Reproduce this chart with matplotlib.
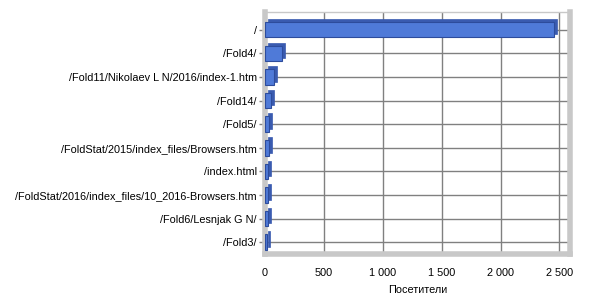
import matplotlib
matplotlib.use('Agg')
import matplotlib.pyplot as plt
import matplotlib.transforms as mtransforms
from matplotlib.ticker import FuncFormatter

pages = [
    "/",
    "/Fold4/",
    "/Fold11/Nikolaev L N/2016/index-1.htm",
    "/Fold14/",
    "/Fold5/",
    "/FoldStat/2015/index_files/Browsers.htm",
    "/index.html",
    "/FoldStat/2016/index_files/10_2016-Browsers.htm",
    "/Fold6/Lesnjak G N/",
    "/Fold3/",
]
visitors = [2450, 145, 75, 50, 38, 32, 27, 24, 22, 20]

FACE = '#4f7ad8'
EDGE = '#2d4c9c'
SIDE = '#3a5bb0'
WALL = '#c8c8c8'
GRID = '#808080'

plt.rcParams['font.family'] = ['Liberation Sans', 'DejaVu Sans']

fig = plt.figure(figsize=(6, 3), dpi=100)
ax = fig.add_axes([265 / 600, 1 - 254 / 300, 305 / 600, 242 / 300])

y = list(range(len(pages)))

# fake depth: darker copy shifted up-right behind each bar
depth = mtransforms.offset_copy(ax.transData, fig=fig, x=3, y=3, units='dots')
ax.barh(y, visitors, height=0.66, color=SIDE, edgecolor=SIDE,
        linewidth=0.5, transform=depth, zorder=2)
ax.barh(y, visitors, height=0.66, color=FACE, edgecolor=EDGE,
        linewidth=0.8, zorder=3)

ax.set_xlim(0, 2590)
ax.set_ylim(len(pages) - 0.5, -0.75)
ax.set_xticks(range(0, 2501, 500))
ax.xaxis.set_major_formatter(FuncFormatter(lambda v, p: f"{int(v):,}".replace(',', ' ')))
ax.set_yticks(y)
ax.set_yticklabels(pages)

ax.grid(True, color=GRID, lw=1.0, zorder=0)
ax.set_axisbelow(True)

for side in ('left', 'bottom', 'right'):
    ax.spines[side].set_color(WALL)
    ax.spines[side].set_linewidth(4)
ax.spines['top'].set_color(WALL)
ax.spines['top'].set_linewidth(1)

ax.tick_params(axis='y', length=4, width=1, color=GRID, labelsize=7.8, pad=2)
ax.tick_params(axis='x', length=0, labelsize=7.8, pad=10)
ax.set_xlabel('Посетители', fontsize=7.8, labelpad=5)

fig.savefig('out.png', dpi=100)
